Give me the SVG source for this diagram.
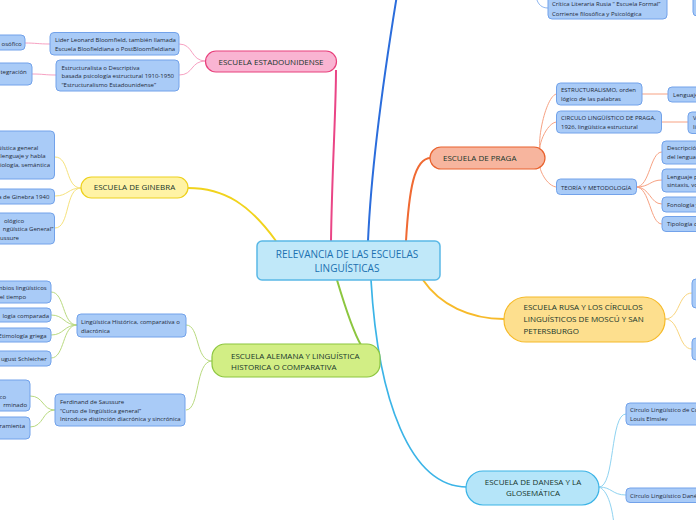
<svg xmlns="http://www.w3.org/2000/svg" width="696" height="520" viewBox="0 0 696 520">
<style>
text{font-family:"Open Sans","Noto Sans","DejaVu Sans",sans-serif}
.tt{font-size:8px;fill:#16352c}
.st{font-size:6px;fill:#1e2a38}
.e{text-anchor:end}
.m{text-anchor:middle}
.leaf{fill:#a9cbf7;stroke:#72a2ea;stroke-width:1}
.c path{fill:none}
</style>
<rect width="696" height="520" fill="#ffffff"/>
<g id="connectors" class="c">
  <path d="M331,241 C332,170 336,110 336,70" stroke="#ea4586" stroke-width="2"/>
  <path d="M368,241 C372,150 388,50 397,-5" stroke="#2b6ddc" stroke-width="2"/>
  <path d="M406,241 C409,190 414,158 431,158" stroke="#f06a33" stroke-width="2"/>
  <path d="M276,241 C250,205 225,188 188,188" stroke="#f1d31d" stroke-width="2"/>
  <path d="M337,280 C343,300 352,330 361,345" stroke="#8cc63f" stroke-width="2"/>
  <path d="M371,280 C378,400 410,487 467,487" stroke="#3bb4e7" stroke-width="1.7"/>
  <path d="M423,280 C440,305 470,319 504,319" stroke="#f7ba2a" stroke-width="2"/>
  <g stroke="#f7a1c2" stroke-width="1">
    <path d="M206,61 C190,61 194,44 179,44"/>
    <path d="M206,61 C190,61 194,75 179,75"/>
    <path d="M50,44 C38,44 36,43 25,43"/>
    <path d="M56,75 C44,75 44,74 32,74"/>
  </g>
  <g stroke="#f6e27c" stroke-width="1">
    <path d="M81,188 C65,188 70,157 55,157"/>
    <path d="M81,188 C68,188 68,196 55,196"/>
    <path d="M81,188 C65,188 70,228 55,228"/>
  </g>
  <g stroke="#b9da80" stroke-width="1">
    <path d="M212,361 C195,361 200,325 186,325"/>
    <path d="M212,361 C195,361 200,410 186,410"/>
    <path d="M77,325 C62,325 65,292 51,292"/>
    <path d="M77,325 C64,325 64,315 51,315"/>
    <path d="M77,325 C64,325 64,335 51,335"/>
    <path d="M77,325 C62,325 65,358 51,358"/>
    <path d="M55,410 C42,410 44,396 30,396"/>
    <path d="M55,410 C42,410 44,427 30,427"/>
  </g>
  <g stroke="#f7a283" stroke-width="1">
    <path d="M545,158 C532,158 545,94 557,94"/>
    <path d="M545,158 C532,158 545,122 557,122"/>
    <path d="M545,158 C532,158 545,187 557,187"/>
    <path d="M642,94 L668,94"/>
    <path d="M661,122 L688,122"/>
    <path d="M636,187 C650,187 650,152 662,152"/>
    <path d="M636,187 C650,187 650,180 662,180"/>
    <path d="M636,187 C650,187 650,204 662,204"/>
    <path d="M636,187 C650,187 650,224 662,224"/>
  </g>
  <g stroke="#f9d57e" stroke-width="1">
    <path d="M665,319 C680,319 678,293 692,293"/>
    <path d="M665,319 C680,319 678,349 692,349"/>
  </g>
  <g stroke="#8fd3f1" stroke-width="1">
    <path d="M599,487 C615,487 610,414 626,414"/>
    <path d="M599,487 C612,487 612,495 626,495"/>
    <path d="M599,487 C607,490 612,505 614,525"/>
  </g>
  <path d="M536,-3 C538,5 542,8 548,8" stroke="#8fb6f0" stroke-width="1"/>
</g>

<g id="central">
  <rect x="257" y="241" width="183" height="39" rx="5" fill="#c0e8f9" stroke="#59b8e6" stroke-width="1.5"/>
  <text x="347" y="258" class="m" style="font-size:10px;fill:#1b70b0">RELEVANCIA DE LAS ESCUELAS</text>
  <text x="347" y="272" class="m" style="font-size:10px;fill:#1b70b0">LINGUÍSTICAS</text>
</g>

<g id="estadounidense">
  <rect x="205.5" y="51" width="131" height="21" rx="10.5" fill="#f9b4d2" stroke="#e8407c" stroke-width="1.2"/>
  <text x="271" y="64.5" class="tt m">ESCUELA ESTADOUNIDENSE</text>
</g>
<g id="bloomfield">
  <rect x="50" y="32.5" width="129" height="22.5" rx="4" class="leaf"/>
  <text x="55" y="42.3" class="st">Lider Leonard Bloomfield, también llamada</text>
  <text x="55" y="50.6" class="st">Escuela Bloofieldiana o PostBloomfieldiana</text>
</g>
<g id="descriptiva">
  <rect x="56" y="60" width="123" height="31" rx="4" class="leaf"/>
  <text x="61.5" y="70" class="st">Estructuralista o Descriptiva</text>
  <text x="61.5" y="78.3" class="st">basada psicología estructural 1910-1950</text>
  <text x="61.5" y="86.6" class="st">“Estructuralismo Estadounidense”</text>
</g>
<g id="filosofico">
  <rect x="-10" y="35" width="35" height="15" rx="4" class="leaf"/>
  <text x="21.7" y="45.5" class="st e">osófico</text>
</g>
<g id="integracion">
  <rect x="-10" y="63" width="42" height="22" rx="4" class="leaf"/>
  <text x="26.7" y="74" class="st e">tegración</text>
</g>

<g id="ginebra">
  <rect x="81" y="177" width="107" height="21" rx="10.5" fill="#fff3a5" stroke="#eed11e" stroke-width="1.2"/>
  <text x="134.5" y="190" class="tt m">ESCUELA DE GINEBRA</text>
</g>
<g id="g1">
  <rect x="-10" y="131" width="64.5" height="48" rx="4" class="leaf"/>
  <text x="38.3" y="150" class="st e">üística general</text>
  <text x="45.7" y="158" class="st e">lenguaje y habla</text>
  <text x="50" y="166.6" class="st e">iología, semántica</text>
</g>
<g id="g2">
  <rect x="-10" y="189" width="64.5" height="15" rx="4" class="leaf"/>
  <text x="49.3" y="199" class="st e">a de Ginebra 1940</text>
</g>
<g id="g3">
  <rect x="-10" y="213" width="64.5" height="31" rx="4" class="leaf"/>
  <text x="24" y="223.3" class="st e">ológico</text>
  <text x="53.3" y="231.3" class="st e">ngüística General”</text>
  <text x="19" y="240" class="st e">ussure</text>
</g>

<g id="alemana">
  <rect x="212" y="344" width="168" height="33" rx="13" fill="#d2ee85" stroke="#8cc63f" stroke-width="1.2"/>
  <text x="231" y="358.5" class="tt">ESCUELA ALEMANA Y LINGUÍSTICA</text>
  <text x="231" y="369.5" class="tt">HISTORICA O COMPARATIVA</text>
</g>
<g id="historica">
  <rect x="77" y="314" width="109" height="23" rx="4" class="leaf"/>
  <text x="81" y="324.3" class="st">Lingüística Histórica, comparativa o</text>
  <text x="81" y="332.5" class="st">diacrónica</text>
</g>
<g id="h1">
  <rect x="-10" y="281" width="61" height="22" rx="4" class="leaf"/>
  <text x="46.7" y="290" class="st e">mbios lingüísticos</text>
  <text x="26" y="299" class="st e">el tiempo</text>
</g>
<g id="h2">
  <rect x="-10" y="308" width="61" height="14" rx="4" class="leaf"/>
  <text x="49" y="318" class="st e">logía comparada</text>
</g>
<g id="h3">
  <rect x="-10" y="328" width="61" height="14" rx="4" class="leaf"/>
  <text x="46.7" y="337.5" class="st e">Etimología griega</text>
</g>
<g id="h4">
  <rect x="-10" y="351" width="61" height="15" rx="4" class="leaf"/>
  <text x="46.7" y="361" class="st e">ugust Schleicher</text>
</g>
<g id="saussure">
  <rect x="55" y="394" width="130" height="32" rx="4" class="leaf"/>
  <text x="60" y="404.3" class="st">Ferdinand de Saussure</text>
  <text x="60" y="412.6" class="st">“Curso de lingüística general”</text>
  <text x="60" y="421" class="st">Introduce distinción diacrónica y sincrónica</text>
</g>
<g id="s1">
  <rect x="-10" y="380" width="40" height="31" rx="4" class="leaf"/>
  <text x="6" y="398.5" class="st e">co</text>
  <text x="27" y="406.5" class="st e">rminado</text>
</g>
<g id="s2">
  <rect x="-10" y="417" width="40" height="22" rx="4" class="leaf"/>
  <text x="25" y="427.5" class="st e">ramienta</text>
</g>

<g id="formal">
  <rect x="548" y="-6" width="119" height="25" rx="4" class="leaf"/>
  <text x="552" y="6.3" class="st">Crítica Literaria Rusia “ Escuela Formal”</text>
  <text x="552" y="15.5" class="st">Corriente filosófica y Psicológica</text>
</g>
<g id="topright">
  <rect x="693" y="-6" width="12" height="22" rx="4" class="leaf"/>
</g>

<g id="praga">
  <rect x="430" y="147" width="115" height="22" rx="11" fill="#f7b59e" stroke="#e9622e" stroke-width="1.2"/>
  <text x="443" y="160.5" class="tt">ESCUELA DE PRAGA</text>
</g>
<g id="p1">
  <rect x="556.5" y="83" width="85.5" height="22" rx="4" class="leaf"/>
  <text x="561" y="92.3" class="st">ESTRUCTURALISMO, orden</text>
  <text x="561" y="101.3" class="st">lógico de las palabras</text>
</g>
<g id="p2">
  <rect x="556.5" y="111" width="105" height="22" rx="4" class="leaf"/>
  <text x="561" y="119.6" class="st">CIRCULO LINGÜÍSTICO DE PRAGA,</text>
  <text x="561" y="129" class="st">1926, lingüística estructural</text>
</g>
<g id="p3">
  <rect x="556.5" y="179" width="80" height="15.5" rx="4" class="leaf"/>
  <text x="561" y="189.6" class="st">TEORÍA Y METODOLOGÍA</text>
</g>
<g id="p1a">
  <rect x="668" y="87" width="40" height="15" rx="4" class="leaf"/>
  <text x="673" y="97.3" class="st">Lenguaje</text>
</g>
<g id="p2a">
  <rect x="688" y="112" width="20" height="21.5" rx="4" class="leaf"/>
  <text x="693" y="119.6" class="st">V</text>
  <text x="693" y="129" class="st">li</text>
</g>
<g id="p3a">
  <rect x="662" y="141" width="45" height="23" rx="4" class="leaf"/>
  <text x="667" y="150.3" class="st">Descripció</text>
  <text x="667" y="159" class="st">del lengua</text>
</g>
<g id="p3b">
  <rect x="662" y="169" width="45" height="23" rx="4" class="leaf"/>
  <text x="667" y="178.8" class="st">Lenguaje p</text>
  <text x="667" y="186.8" class="st">sintaxis, vo</text>
</g>
<g id="p3c">
  <rect x="662" y="197" width="45" height="15" rx="4" class="leaf"/>
  <text x="667" y="207.3" class="st">Fonología y</text>
</g>
<g id="p3d">
  <rect x="662" y="216.5" width="45" height="15" rx="4" class="leaf"/>
  <text x="667" y="226" class="st">Tipología d</text>
</g>

<g id="rusa">
  <rect x="504" y="297" width="161" height="45" rx="22" fill="#fddf8e" stroke="#f6ba28" stroke-width="1.2"/>
  <text x="523.5" y="310.2" class="tt">ESCUELA RUSA Y LOS CÍRCULOS</text>
  <text x="523.5" y="322.2" class="tt">LINGUÍSTICOS DE MOSCÚ Y SAN</text>
  <text x="523.5" y="334" class="tt">PETERSBURGO</text>
</g>
<g id="r1">
  <rect x="692" y="279" width="20" height="29" rx="4" class="leaf"/>
</g>
<g id="r2">
  <rect x="692" y="338" width="20" height="22" rx="4" class="leaf"/>
</g>

<g id="danesa">
  <rect x="466" y="471" width="133" height="34" rx="17" fill="#b5e5f9" stroke="#3ab3e6" stroke-width="1.2"/>
  <text x="533" y="484.5" class="tt m">ESCUELA DE DANESA Y LA</text>
  <text x="533" y="495.8" class="tt m">GLOSEMÁTICA</text>
</g>
<g id="d1">
  <rect x="626" y="403" width="80" height="22" rx="4" class="leaf"/>
  <text x="630" y="411.5" class="st">Círculo Lingüístico de Co</text>
  <text x="630" y="421" class="st">Louis Elmslev</text>
</g>
<g id="d2">
  <rect x="626" y="488" width="80" height="14.5" rx="4" class="leaf"/>
  <text x="630" y="497.8" class="st">Círculo Lingüístico Danés</text>
</g>
</svg>
